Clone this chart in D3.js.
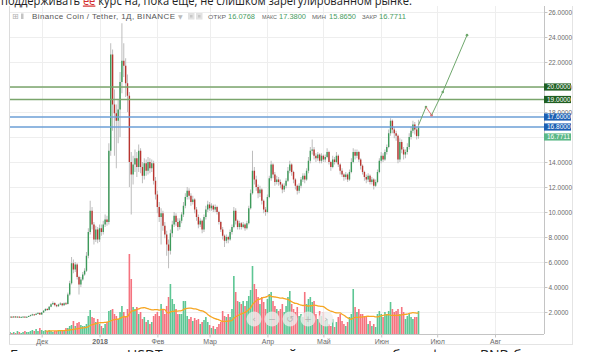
<!DOCTYPE html>
<html>
<head>
<meta charset="utf-8">
<script src="https://cdnjs.cloudflare.com/ajax/libs/d3/7.8.5/d3.min.js"></script>
<style>
html, body { margin: 0; padding: 0; background: #fff; overflow: hidden; }
svg { display: block; }
</style>
</head>
<body>
<div id="display"></div>
<script>
// BNB / USDT daily candles, first bar 14 Nov 2017
var firstDay = "2017-11-14";

var opens = [
  1.60,1.63,1.58,1.64,1.60,1.63,1.58,1.61,1.63,1.59,
  1.62,1.68,1.75,1.81,1.77,1.86,1.93,1.80,1.96,2.10,
  2.24,2.17,2.42,2.62,2.72,2.55,2.46,2.60,2.68,2.54,
  2.70,2.64,3.40,4.30,5.90,5.40,5.80,4.80,4.20,4.60,
  5.00,5.30,6.50,8.40,10.10,9.00,7.80,8.60,7.80,8.70,
  8.40,9.00,9.40,9.20,14.90,22.60,18.60,17.90,17.30,18.20,
  20.40,22.10,21.70,20.30,19.30,14.00,13.00,13.80,14.30,13.60,
  14.90,13.60,12.90,13.90,13.30,14.00,13.50,13.90,12.50,11.40,
  10.40,9.60,9.90,8.90,8.20,7.40,6.90,8.30,9.00,9.70,
  9.20,8.80,9.30,9.80,10.50,11.20,11.70,11.30,10.80,11.00,
  10.20,9.60,9.00,9.30,8.60,9.60,10.20,10.60,10.30,10.50,
  10.20,10.40,10.00,9.20,8.60,8.10,7.70,8.00,7.80,8.40,
  8.80,10.10,9.30,8.80,9.10,8.80,9.00,8.70,9.10,10.30,
  11.50,13.30,12.60,12.00,11.50,11.80,10.90,10.20,10.00,11.20,
  12.70,13.80,13.00,12.40,12.60,12.40,12.20,11.80,12.10,12.50,
  13.30,13.80,13.20,12.60,12.10,11.70,12.10,12.60,12.90,12.60,
  13.30,14.10,14.90,15.00,14.50,14.30,14.60,14.10,14.50,14.20,
  14.40,14.80,14.00,13.60,14.20,14.00,14.50,13.80,13.30,13.00,
  12.80,13.00,12.60,13.20,14.00,14.80,14.50,14.80,14.20,13.70,
  13.20,12.80,12.60,12.90,12.40,12.60,12.10,12.40,13.20,14.10,
  14.50,14.20,14.80,15.20,16.30,17.30,16.60,16.30,16.10,14.20,
  15.60,15.00,14.60,14.80,15.20,16.00,16.50,17.00,16.60,16.0768
];
var highs = [
  1.66,1.65,1.67,1.66,1.66,1.64,1.63,1.66,1.65,1.64,
  1.71,1.79,1.86,1.84,1.90,1.98,1.95,2.00,2.15,2.30,
  2.32,2.48,2.70,2.85,2.78,2.62,2.66,2.78,2.72,2.76,
  2.80,3.55,4.50,6.40,6.20,6.00,5.90,4.90,4.80,5.20,
  5.50,6.80,8.70,10.90,10.40,9.20,8.90,8.80,9.00,9.00,
  9.30,9.80,9.70,15.50,23.50,23.00,19.80,18.60,19.00,21.20,
  25.10,23.50,22.30,21.00,19.60,14.80,14.50,15.00,14.80,15.40,
  15.10,14.00,14.30,14.20,14.40,14.30,14.20,14.10,12.80,11.70,
  10.80,10.30,10.10,9.20,8.50,7.80,8.60,9.30,10.00,9.90,
  9.50,9.50,10.00,10.80,11.50,12.00,11.90,11.50,11.30,11.10,
  10.40,9.80,9.50,9.40,9.80,10.50,10.90,10.80,10.70,10.60,
  10.60,10.50,10.10,9.30,8.80,8.20,8.20,8.10,8.60,9.00,
  10.40,10.30,9.40,9.30,9.20,9.20,9.10,9.30,10.50,11.80,
  14.90,13.60,12.90,12.20,12.10,11.90,11.00,10.40,11.40,12.90,
  14.10,13.90,13.20,12.90,12.80,12.60,12.30,12.30,12.70,13.60,
  14.10,13.90,13.30,12.70,12.20,12.30,12.80,13.10,13.10,13.50,
  14.40,15.20,15.80,15.20,14.70,14.80,14.70,14.70,14.60,14.60,
  15.10,14.90,14.10,14.50,14.40,14.80,14.60,13.90,13.50,13.10,
  13.20,13.10,13.40,14.30,15.10,15.00,15.00,14.90,14.30,13.80,
  13.30,13.00,13.10,13.00,12.80,12.70,12.60,13.40,14.30,14.80,
  14.70,15.00,15.40,16.60,17.50,17.40,16.80,16.50,16.20,15.90,
  15.80,15.20,15.00,15.50,16.30,16.80,17.30,17.20,16.80,17.38
];
var lows = [
  1.57,1.55,1.56,1.57,1.58,1.55,1.56,1.59,1.56,1.57,
  1.60,1.66,1.72,1.73,1.75,1.83,1.76,1.78,1.93,2.06,
  2.10,2.14,2.38,2.56,2.45,2.38,2.42,2.55,2.46,2.50,
  2.56,2.60,3.30,4.20,5.10,5.20,4.60,3.40,4.00,4.50,
  4.90,5.20,6.30,8.20,8.60,7.40,7.60,7.50,7.60,8.10,
  8.20,8.80,8.90,9.00,14.50,16.50,14.50,13.50,15.50,16.00,
  19.50,20.80,19.20,18.00,12.00,9.80,12.20,13.20,12.80,13.20,
  13.10,12.30,12.60,12.90,13.00,13.10,13.20,12.20,11.00,9.90,
  9.20,7.40,8.50,7.90,6.50,5.50,6.60,8.00,8.80,8.90,
  8.50,8.60,9.10,9.60,10.30,11.00,11.00,10.50,10.60,9.90,
  9.30,8.70,8.80,8.30,8.40,9.40,10.00,10.10,10.10,10.00,
  10.00,9.80,9.00,8.40,7.80,7.20,7.50,7.50,7.70,8.20,
  8.70,9.00,8.60,8.60,8.60,8.70,8.50,8.60,9.00,10.20,
  11.40,12.20,11.70,11.10,11.20,10.60,9.90,9.70,9.90,11.10,
  12.50,12.70,12.10,12.20,12.10,11.90,11.50,11.60,11.90,12.40,
  13.10,12.90,12.30,11.80,11.40,11.50,11.90,12.40,12.30,12.50,
  13.10,13.90,14.60,14.20,14.00,14.10,13.90,13.90,14.00,14.00,
  14.30,13.80,13.30,13.50,13.80,13.90,13.60,13.00,12.80,12.50,
  12.60,12.40,12.50,13.10,13.90,14.20,14.30,14.00,13.40,13.00,
  12.50,12.30,12.40,12.20,12.20,11.80,12.00,12.30,13.10,13.90,
  14.00,14.10,14.60,15.10,16.10,16.30,15.90,15.70,13.90,14.00,
  14.70,14.20,14.30,14.60,15.00,15.80,16.30,16.20,15.80,15.865
];
var closes = [
  1.63,1.58,1.64,1.60,1.63,1.58,1.61,1.63,1.59,1.62,
  1.68,1.75,1.81,1.77,1.86,1.93,1.80,1.96,2.10,2.24,
  2.17,2.42,2.62,2.72,2.55,2.46,2.60,2.68,2.54,2.70,
  2.64,3.40,4.30,5.90,5.40,5.80,4.80,4.20,4.60,5.00,
  5.30,6.50,8.40,10.10,9.00,7.80,8.60,7.80,8.70,8.40,
  9.00,9.40,9.20,14.90,22.60,18.60,17.90,17.30,18.20,20.40,
  22.10,21.70,20.30,19.30,14.00,13.00,13.80,14.30,13.60,14.90,
  13.60,12.90,13.90,13.30,14.00,13.50,13.90,12.50,11.40,10.40,
  9.60,9.90,8.90,8.20,7.40,6.90,8.30,9.00,9.70,9.20,
  8.80,9.30,9.80,10.50,11.20,11.70,11.30,10.80,11.00,10.20,
  9.60,9.00,9.30,8.60,9.60,10.20,10.60,10.30,10.50,10.20,
  10.40,10.00,9.20,8.60,8.10,7.70,8.00,7.80,8.40,8.80,
  10.10,9.30,8.80,9.10,8.80,9.00,8.70,9.10,10.30,11.50,
  13.30,12.60,12.00,11.50,11.80,10.90,10.20,10.00,11.20,12.70,
  13.80,13.00,12.40,12.60,12.40,12.20,11.80,12.10,12.50,13.30,
  13.80,13.20,12.60,12.10,11.70,12.10,12.60,12.90,12.60,13.30,
  14.10,14.90,15.00,14.50,14.30,14.60,14.10,14.50,14.20,14.40,
  14.80,14.00,13.60,14.20,14.00,14.50,13.80,13.30,13.00,12.80,
  13.00,12.60,13.20,14.00,14.80,14.50,14.80,14.20,13.70,13.20,
  12.80,12.60,12.90,12.40,12.60,12.10,12.40,13.20,14.10,14.50,
  14.20,14.80,15.20,16.30,17.30,16.60,16.30,16.10,14.20,15.60,
  15.00,14.60,14.80,15.20,16.00,16.50,17.00,16.60,16.0768,16.7711
];
// volume, arbitrary units
var volumes = [
  2,1,2,1,3,2,1,2,3,2,
  2,3,4,3,5,3,6,4,3,4,
  3,4,3,2,3,3,4,3,4,3,
  6,6,8,9,13,8,11,12,9,8,
  8,10,18,24,17,16,12,15,10,8,
  6,10,12,23,24,25,20,18,15,22,
  28,22,18,25,80,55,27,25,27,20,
  22,15,17,12,14,10,12,18,20,22,
  18,30,25,20,28,37,50,35,30,25,
  20,20,20,33,33,18,15,17,13,16,
  14,15,10,12,14,17,12,9,6,8,
  5,7,10,12,23,18,17,20,17,25,
  58,42,33,32,30,33,28,33,38,44,
  68,50,45,37,30,37,32,25,35,40,
  42,33,28,25,23,25,30,22,28,37,
  43,30,25,22,27,18,20,17,42,30,
  35,37,32,33,20,15,23,18,22,13,
  15,10,8,15,7,12,17,20,13,10,
  8,12,17,20,45,27,22,25,20,20,
  18,17,10,13,8,10,7,20,23,20,
  17,22,20,23,32,25,22,23,25,20,
  27,22,15,18,20,17,15,17,17,23
];

var priceTicks = [2, 4, 6, 8, 10, 12, 14, 16, 18, 20, 22, 24, 26];
var monthDays = ["2017-12-01", "2018-01-01", "2018-02-01", "2018-03-01", "2018-04-01",
                 "2018-05-01", "2018-06-01", "2018-07-01", "2018-08-01"];
var monthLabels = ["Дек", "2018", "Фев", "Мар", "Апр", "Май", "Июн", "Июл", "Авг"];

// drawn horizontal levels
var levels = [20, 19, 17.6, 16.8];
// drawn forecast path
var forecastDays = ["2018-06-21", "2018-06-25", "2018-06-28", "2018-07-04", "2018-07-17"];
var forecastValues = [16.95, 18.4, 17.75, 19.6, 24.15];

var upC = "#3d9a5a", downC = "#b9342f", wickC = "#b5b5b5";
var volUp = "#5dc694", volDown = "#f5737f", maC = "#f6a623";
var levelLine = { 20: "#7aa56b", 19: "#7aa56b", 17.6: "#6d9fd6", 16.8: "#6d9fd6" };
var levelBox = { 20: "#1f5f22", 19: "#1f5f22", 17.6: "#1c5fb3", 16.8: "#1c5fb3" };

var L = 9, R = 544, T = 6, B = 334;

var svg = d3.select("#display").append("svg")
  .attr("width", 598).attr("height", 352)
  .style("font-family", "'Liberation Sans', Arial, sans-serif");

var parse = d3.timeParse("%Y-%m-%d");
var start = parse(firstDay);
var days = closes.map(function(c, i) { return d3.timeDay.offset(start, i) });
var last = closes.length - 1;

var x = d3.scaleTime()
  .domain([parse("2017-12-01"), parse("2018-08-01")])
  .range([41.7, 495]);
var y = d3.scaleLinear().domain([0, 26]).range([337, 12]);
var yVol = d3.scaleLinear().domain([0, 80]).range([B, B - 80]);

svg.append("defs").append("clipPath").attr("id", "plot")
  .append("rect").attr("x", L).attr("y", T).attr("width", R - L).attr("height", B - T);

// grid
var grid = svg.append("g").attr("stroke", "#eeeeee").attr("stroke-width", 1);
grid.selectAll(".h").data(priceTicks).enter().append("line")
  .attr("x1", L).attr("x2", R)
  .attr("y1", function(d) { return Math.round(y(d)) + 0.5 })
  .attr("y2", function(d) { return Math.round(y(d)) + 0.5 });
grid.selectAll(".v").data(monthDays).enter().append("line")
  .attr("y1", T).attr("y2", B)
  .attr("x1", function(d) { return Math.round(x(parse(d))) + 0.5 })
  .attr("x2", function(d) { return Math.round(x(parse(d))) + 0.5 });

var plot = svg.append("g").attr("clip-path", "url(#plot)");

// volume
plot.append("g").selectAll("rect").data(volumes).enter().append("rect")
  .attr("x", function(d, i) { return x(days[i]) - 0.8 })
  .attr("width", 1.6)
  .attr("y", function(d) { return yVol(d) })
  .attr("height", function(d) { return B - yVol(d) })
  .attr("fill", function(d, i) { return closes[i] >= opens[i] ? volUp : volDown });

// volume moving average, 20 days
var ma = [];
for (var i = 19; i < volumes.length; i++) {
  ma.push({ d: days[i], v: d3.mean(volumes.slice(i - 19, i + 1)) });
}
plot.append("path").datum(ma)
  .attr("fill", "none").attr("stroke", maC).attr("stroke-width", 1.3)
  .attr("d", d3.line().x(function(d) { return x(d.d) }).y(function(d) { return yVol(d.v) }).curve(d3.curveMonotoneX));

// candles
var candle = plot.append("g").selectAll("g").data(closes).enter().append("g");
candle.append("line")
  .attr("x1", function(d, i) { return x(days[i]) })
  .attr("x2", function(d, i) { return x(days[i]) })
  .attr("y1", function(d, i) { return y(highs[i]) })
  .attr("y2", function(d, i) { return y(lows[i]) })
  .attr("stroke", wickC).attr("stroke-width", 0.9);
candle.append("rect")
  .attr("x", function(d, i) { return x(days[i]) - 0.7 })
  .attr("width", 1.4)
  .attr("y", function(d, i) { return y(Math.max(opens[i], d)) })
  .attr("height", function(d, i) { return Math.max(1, Math.abs(y(opens[i]) - y(d))) })
  .attr("fill", function(d, i) { return d >= opens[i] ? upC : downC });

// levels
plot.append("g").selectAll("line").data(levels).enter().append("line")
  .attr("x1", L).attr("x2", R)
  .attr("y1", function(d) { return y(d) }).attr("y2", function(d) { return y(d) })
  .attr("stroke", function(d) { return levelLine[d] }).attr("stroke-width", 1.6);

// forecast path
var fc = forecastDays.map(function(d, i) { return { x: x(parse(d)), y: y(forecastValues[i]), v: forecastValues[i] } });
var fg = plot.append("g");
for (var k = 1; k < fc.length; k++) {
  var col = fc[k].v >= fc[k - 1].v ? "#6fa86d" : "#e0737a";
  fg.append("line")
    .attr("x1", fc[k - 1].x).attr("y1", fc[k - 1].y)
    .attr("x2", fc[k].x).attr("y2", fc[k].y)
    .attr("stroke", col).attr("stroke-width", 1);
  fg.append("circle").attr("cx", fc[k].x).attr("cy", fc[k].y).attr("r", 1.3).attr("fill", col);
}

// frame
var frame = svg.append("g").attr("fill", "none");
frame.append("line").attr("x1", L + 0.5).attr("x2", L + 0.5).attr("y1", T).attr("y2", 344).attr("stroke", "#dcdcdc");
frame.append("line").attr("x1", L).attr("x2", 573).attr("y1", 344.5).attr("y2", 344.5).attr("stroke", "#e4e4e4");
frame.append("line").attr("x1", 572.5).attr("x2", 572.5).attr("y1", T).attr("y2", 344).attr("stroke", "#e4e4e4");
frame.append("line").attr("x1", L).attr("x2", R).attr("y1", B + 0.5).attr("y2", B + 0.5).attr("stroke", "#c4c4c4");
frame.append("line").attr("x1", R + 0.5).attr("x2", R + 0.5).attr("y1", T).attr("y2", B).attr("stroke", "#c4c4c4");

// price axis; the tick under the last-price box is hidden there
var yAxis = svg.append("g").attr("transform", "translate(" + (R + 0.5) + ",0)")
  .call(d3.axisRight(y).tickValues(priceTicks).tickSize(3).tickPadding(1).tickFormat(d3.format(".4f")));
yAxis.select(".domain").remove();
yAxis.selectAll("line").attr("stroke", "#c4c4c4");
yAxis.selectAll("text").attr("fill", "#6a6a6a").style("font-size", "6.5px")
  .style("font-family", "'Liberation Sans', Arial, sans-serif")
  .style("display", function(d) { return Math.abs(y(d) - (y(closes[last]) + 9.6)) < 5 ? "none" : null });

// time axis
var xAxis = svg.append("g").attr("transform", "translate(0," + (B + 0.5) + ")")
  .call(d3.axisBottom(x).tickValues(monthDays.map(parse)).tickSize(3).tickPadding(2)
    .tickFormat(function(d, i) { return monthLabels[i] }));
xAxis.select(".domain").remove();
xAxis.selectAll("line").attr("stroke", "#c4c4c4");
xAxis.selectAll("text").attr("fill", "#6a6a6a").style("font-size", "7px")
  .style("font-family", "'Liberation Sans', Arial, sans-serif")
  .style("font-weight", function(d, i) { return monthLabels[i] === "2018" ? "bold" : "normal" });

// level price boxes
var boxes = svg.append("g");
levels.forEach(function(v) {
  boxes.append("rect").attr("x", R).attr("y", y(v) - 3.6).attr("width", 27).attr("height", 7.2).attr("fill", levelBox[v]);
  boxes.append("text").attr("x", R + 3).attr("y", y(v) + 2.3).attr("fill", "#fff")
    .style("font-size", "6.5px").text(d3.format(".4f")(v));
});
boxes.append("rect").attr("x", R).attr("y", y(closes[last]) + 6).attr("width", 27).attr("height", 7.2).attr("fill", "#5bb887");
boxes.append("text").attr("x", R + 3).attr("y", y(closes[last]) + 11.9).attr("fill", "#fff")
  .style("font-size", "6.5px").text(d3.format(".4f")(closes[last]));

// header
var head = svg.append("g");
head.append("text").attr("x", 12).attr("y", 19).attr("fill", "#b0b0b0").style("font-size", "8px")
  .style("font-family", "'DejaVu Sans', sans-serif").text("⊞");
head.append("rect").attr("x", 21).attr("y", 13.5).attr("width", 2.5).attr("height", 5.5).attr("fill", "#c4c4c4");
head.append("text").attr("x", 32).attr("y", 18.7).attr("fill", "#555").style("font-size", "8px")
  .attr("textLength", 143).text("Binance Coin / Tether, 1Д, BINANCE");
head.append("text").attr("x", 178).attr("y", 18.5).attr("fill", "#bbb").style("font-size", "6px")
  .style("font-family", "'DejaVu Sans', sans-serif").text("▼");
[188, 196].forEach(function(bx) {
  head.append("rect").attr("x", bx).attr("y", 13).attr("width", 6.5).attr("height", 6.5).attr("fill", "#e2e2e2");
  head.append("rect").attr("x", bx + 2).attr("y", 15).attr("width", 2.5).attr("height", 2.5).attr("fill", "#c8c8c8");
});
var ohlc = [
  ["ОТКР", opens[last], 208, 18, 228],
  ["МАКС", highs[last], 262, 15, 279],
  ["МИН", lows[last], 312, 14, 329],
  ["ЗАКР", closes[last], 362, 15, 379]
];
ohlc.forEach(function(o) {
  head.append("text").attr("x", o[2]).attr("y", 18.7).attr("fill", "#666").style("font-size", "6px")
    .attr("textLength", o[3]).attr("lengthAdjust", "spacingAndGlyphs").text(o[0]);
  head.append("text").attr("x", o[4]).attr("y", 18.7).attr("fill", "#4a9d5f").style("font-size", "8px")
    .attr("textLength", 27).attr("lengthAdjust", "spacingAndGlyphs").text(d3.format(".4f")(o[1]));
});

// pan / zoom buttons
var btnX = [254, 272, 290, 308, 326], btnG = ["‹", "−", "↺", "+", "›"];
var btns = svg.append("g");
btnX.forEach(function(bx, i) {
  btns.append("circle").attr("cx", bx).attr("cy", 319).attr("r", 7.5).attr("fill", "rgba(238,238,238,0.78)");
  btns.append("text").attr("x", bx).attr("y", 322).attr("text-anchor", "middle").attr("fill", "#b3b3b3")
    .style("font-size", "9px").style("font-family", "'DejaVu Sans', sans-serif").text(btnG[i]);
});

// article text cut off above and below the screenshot
var topText = svg.append("text").attr("x", 1).attr("y", 4.5).attr("fill", "#222")
  .style("font-family", "'Open Sans', sans-serif").style("font-size", "12px")
  .attr("textLength", 411).attr("lengthAdjust", "spacingAndGlyphs");
topText.append("tspan").text("поддерживать ");
topText.append("tspan").attr("fill", "#d32f2f").style("text-decoration", "underline dotted #e53935").text("ее");
topText.append("tspan").text(" курс на, пока еще, не слишком зарегулированном рынке.");

var bottomText = svg.append("text").attr("y", 359.5).attr("fill", "#222")
  .style("font-family", "'Open Sans', sans-serif").style("font-size", "14px");
[[10, "Безусловно, пара с"], [127, "USDT является основной на"], [392, "был,"],
 [430, "фиат в"], [480, "BNB"], [513, "бы выгоднее."]].forEach(function(p) {
  bottomText.append("tspan").attr("x", p[0]).text(p[1]);
});
</script>
</body>
</html>
